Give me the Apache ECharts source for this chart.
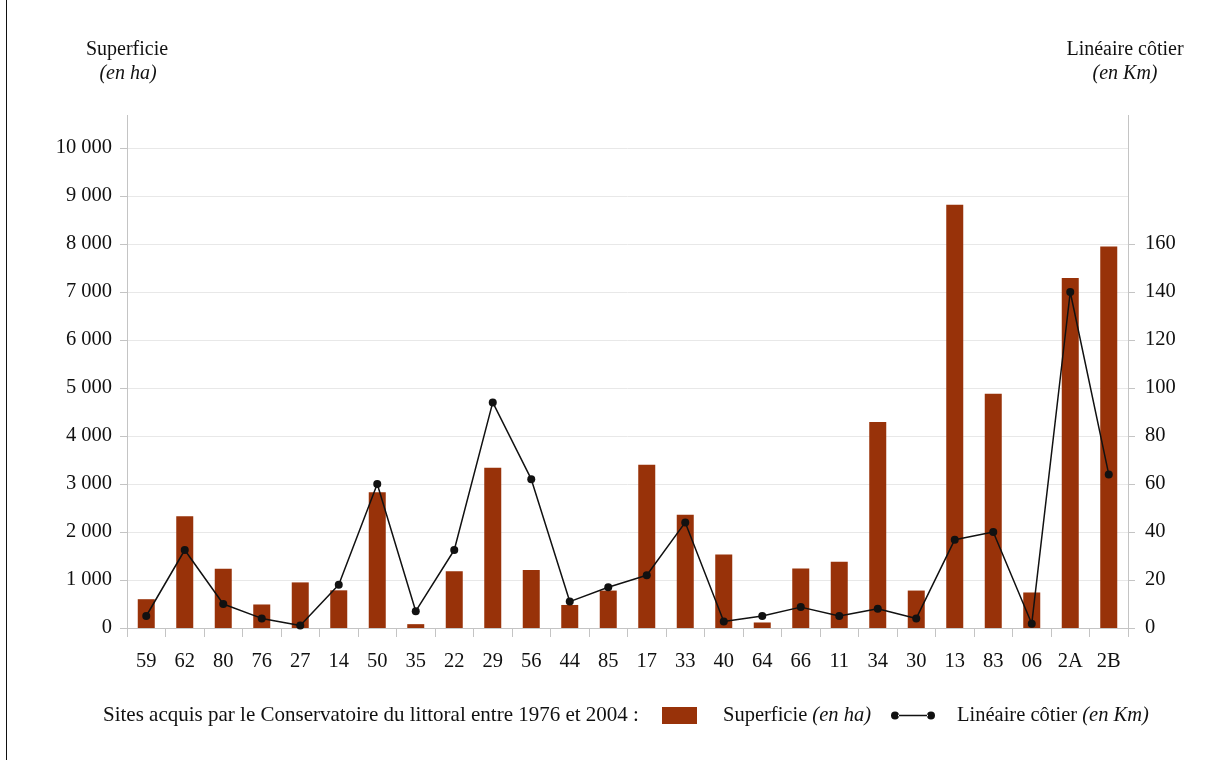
<!DOCTYPE html>
<html>
<head>
<meta charset="utf-8">
<script src="https://cdn.jsdelivr.net/npm/echarts@6/dist/echarts.min.js"></script>
<style>
html,body{margin:0;padding:0;background:#fff;}
#chart{width:1212px;height:760px;}
</style>
</head>
<body>
<div id="chart"></div>
<script>
const categories = ['59','62','80','76','27','14','50','35','22','29','56','44','85','17','33','40','64','66','11','34','30','13','83','06','2A','2B'];
const superficie = [600,2330,1235,490,950,785,2830,80,1180,3340,1210,480,780,3400,2360,1530,115,1240,1380,4290,780,8820,4880,740,7290,7950];
const lineaire = [5,32.5,10,4,1,18,60,7,32.5,94,62,11,17,22,44,2.7,5,8.7,5,8,4,36.8,40,1.8,140,64];
const leftTicks = [0,1000,2000,3000,4000,5000,6000,7000,8000,9000,10000];
const rightTicks = [0,20,40,60,80,100,120,140,160];

const FONT = '"Liberation Serif", "DejaVu Serif", serif';
const fmtThousands = v => String(v).replace(/\B(?=(\d{3})+(?!\d))/g, ' ');

const chart = echarts.init(document.getElementById('chart'));
const option = {
  backgroundColor: '#fff',
  animation: false,
  textStyle: { fontFamily: FONT, color: '#111' },
  grid: { left: 127, right: 84, top: 148, bottom: 132 },
  xAxis: {
    type: 'category',
    data: categories,
    boundaryGap: true,
    axisLine: { show: true, lineStyle: { color: '#c4c4c4', width: 1 } },
    axisTick: { show: true, length: 9, lineStyle: { color: '#c4c4c4' } },
    axisLabel: { fontFamily: FONT, fontSize: 20.5, color: '#111', margin: 23, interval: 0 },
    splitLine: { show: false }
  },
  yAxis: [
    {
      type: 'value', min: 0, max: 10000, interval: 1000,
      axisLine: { show: true, lineStyle: { color: '#c4c4c4' } },
      axisTick: { show: true, length: 7, lineStyle: { color: '#c4c4c4' }, customValues: leftTicks },
      axisLabel: { fontFamily: FONT, fontSize: 20.5, color: '#111', margin: 15, formatter: fmtThousands, customValues: leftTicks },
      splitLine: { show: true, lineStyle: { color: '#e8e8e8', width: 1 } }
    },
    {
      type: 'value', min: 0, max: 200, interval: 20, position: 'right',
      axisLine: { show: true, lineStyle: { color: '#c4c4c4' } },
      axisTick: { show: true, length: 7, lineStyle: { color: '#c4c4c4' }, customValues: rightTicks },
      axisLabel: { fontFamily: FONT, fontSize: 20.5, color: '#111', margin: 17, customValues: rightTicks,
                   formatter: v => (v <= 160 ? String(v) : '') },
      splitLine: { show: false }
    }
  ],
  legend: [
    {
      data: [{ name: 'Superficie', icon: 'rect' }],
      left: 662, top: 705, itemWidth: 35, itemHeight: 17, padding: 0,
      formatter: () => '{s|}{n|Superficie }{i|(en ha)}',
      textStyle: { fontFamily: FONT, fontSize: 20.5, color: '#111',
        rich: { s: { width: 21 }, n: { fontFamily: FONT, fontSize: 20.5, color: '#111' },
                i: { fontFamily: FONT, fontSize: 20.5, fontStyle: 'italic', color: '#111' } } }
    },
    {
      data: [{ name: 'Linéaire côtier',
        icon: 'path://M0,5a4,4 0 1,0 8,0a4,4 0 1,0 -8,0zM7,4.3h30v1.4h-30zM36,5a4,4 0 1,0 8,0a4,4 0 1,0 -8,0z' }],
      left: 891, top: 705, itemWidth: 44, itemHeight: 10, padding: 0,
      formatter: () => '{s|}{n|Linéaire côtier }{i|(en Km)}',
      textStyle: { fontFamily: FONT, fontSize: 20.5, color: '#111',
        rich: { s: { width: 17 }, n: { fontFamily: FONT, fontSize: 20.5, color: '#111' },
                i: { fontFamily: FONT, fontSize: 20.5, fontStyle: 'italic', color: '#111' } } }
    }
  ],
  graphic: [
    { type: 'line', shape: { x1: 6.5, y1: 0, x2: 6.5, y2: 760 }, style: { stroke: '#111', lineWidth: 1 } },
    { type: 'line', shape: { x1: 127.5, y1: 115, x2: 127.5, y2: 148 }, style: { stroke: '#c4c4c4', lineWidth: 1 } },
    { type: 'line', shape: { x1: 1128.5, y1: 115, x2: 1128.5, y2: 148 }, style: { stroke: '#c4c4c4', lineWidth: 1 } },
    { type: 'text', x: 127, y: 50, style: { text: 'Superficie', font: '20px ' + FONT, fill: '#111', textAlign: 'center', textVerticalAlign: 'middle' } },
    { type: 'text', x: 128, y: 74, style: { text: '(en ha)', font: 'italic 20px ' + FONT, fill: '#111', textAlign: 'center', textVerticalAlign: 'middle' } },
    { type: 'text', x: 1125, y: 50, style: { text: 'Linéaire côtier', font: '20px ' + FONT, fill: '#111', textAlign: 'center', textVerticalAlign: 'middle' } },
    { type: 'text', x: 1125, y: 74, style: { text: '(en Km)', font: 'italic 20px ' + FONT, fill: '#111', textAlign: 'center', textVerticalAlign: 'middle' } },
    { type: 'text', x: 103, y: 715, style: { text: 'Sites acquis par le Conservatoire du littoral entre 1976 et 2004 :', font: '21px ' + FONT, fill: '#111', textAlign: 'left', textVerticalAlign: 'middle' } }
  ],
  series: [
    {
      name: 'Superficie', type: 'bar', yAxisIndex: 0, data: superficie,
      barWidth: 17,
      itemStyle: { color: '#983209' }
    },
    {
      name: 'Linéaire côtier', type: 'line', yAxisIndex: 1, data: lineaire,
      symbol: 'circle', symbolSize: 8,
      lineStyle: { color: '#111', width: 1.5 },
      itemStyle: { color: '#111' },
      z: 5
    }
  ]
};
chart.setOption(option);
</script>
</body>
</html>
